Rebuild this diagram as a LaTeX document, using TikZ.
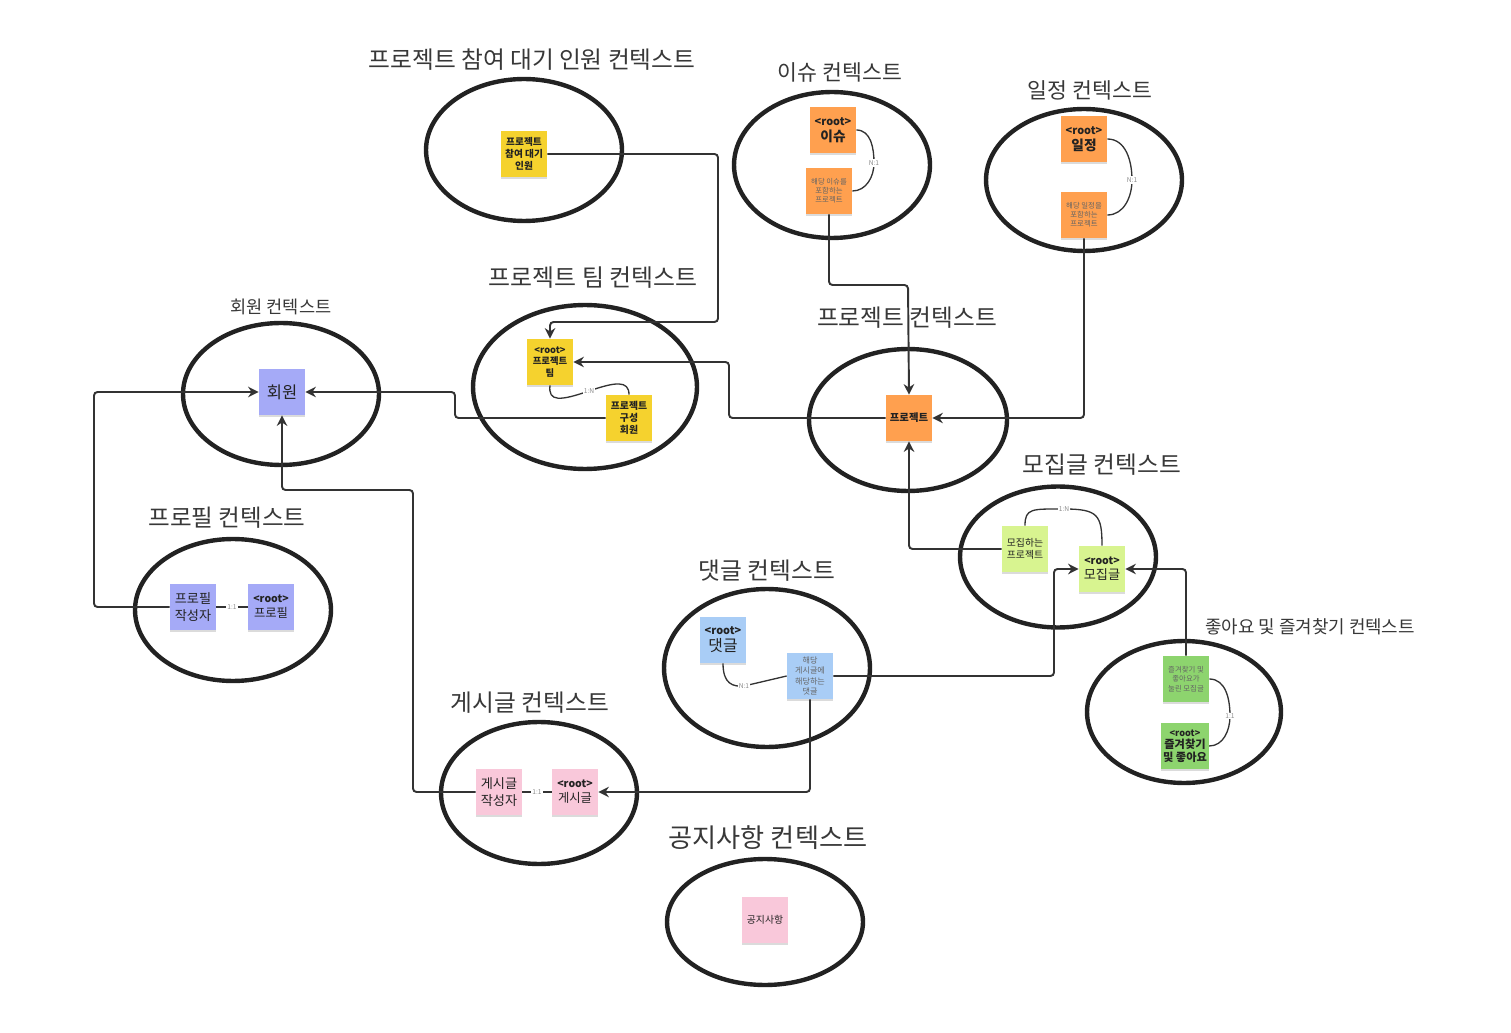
\documentclass[tikz,border=0pt]{standalone}
\usepackage{fontspec}
\setmainfont{Noto Sans CJK KR}
\usetikzlibrary{arrows.meta,shadows,shapes.geometric}
\definecolor{cyellow}{HTML}{F5D22E}
\definecolor{corange}{HTML}{FFA04F}
\definecolor{cpurple}{HTML}{A5AAF7}
\definecolor{clgreen}{HTML}{D8F490}
\definecolor{cgreen}{HTML}{8DD46E}
\definecolor{cblue}{HTML}{A9CDF6}
\definecolor{cpink}{HTML}{F9C8DA}
\definecolor{ink}{HTML}{222222}
\definecolor{lineclr}{HTML}{333333}
\newcommand{\fs}[1]{\fontsize{#1}{\fpeval{#1*1.25}}\selectfont}
\tikzset{
  ctxe/.style={ellipse, draw=ink, line width=2.5pt, inner sep=0pt},
  ttl/.style={text=ink!90, inner sep=0pt},
  note/.style={minimum width=0.92cm, minimum height=0.92cm, inner sep=1pt, align=center,
    text=ink, drop shadow={shadow xshift=0pt, shadow yshift=-1.3pt, opacity=0.14, fill=black}},
  conn/.style={draw=lineclr, line width=1.1pt, rounded corners=2pt, -{Stealth[length=6pt,width=6pt]}},
  rel/.style={draw=lineclr, line width=0.75pt},
  rellab/.style={fill=white, inner sep=0.6pt, text=black!45, font=\fs{3.8}},
}
\begin{document}
\begin{tikzpicture}[x=0.02cm,y=-0.02cm]
\useasboundingbox[fill=white] (0,0) rectangle (1511,1033);

% context ellipses
\node[ctxe, minimum width=3.92cm, minimum height=2.84cm] (eWait) at (524,150) {};
\node[ctxe, minimum width=3.92cm, minimum height=2.92cm] (eIssue) at (832,165) {};
\node[ctxe, minimum width=3.92cm, minimum height=2.84cm] (eSched) at (1084,180) {};
\node[ctxe, minimum width=4.48cm, minimum height=3.28cm] (eTeam) at (585,387) {};
\node[ctxe, minimum width=3.92cm, minimum height=2.84cm] (eMember) at (281,394) {};
\node[ctxe, minimum width=3.96cm, minimum height=2.84cm] (eProj) at (908,420) {};
\node[ctxe, minimum width=3.92cm, minimum height=2.82cm] (eRec) at (1058,557) {};
\node[ctxe, minimum width=3.92cm, minimum height=2.84cm] (eProf) at (233,610) {};
\node[ctxe, minimum width=4.12cm, minimum height=3.16cm] (eCmt) at (767,668) {};
\node[ctxe, minimum width=3.88cm, minimum height=2.84cm] (eLike) at (1184,712) {};
\node[ctxe, minimum width=3.92cm, minimum height=2.84cm] (ePost) at (539,793) {};
\node[ctxe, minimum width=3.92cm, minimum height=2.52cm] (eNotice) at (765,922) {};

% titles
\node[ttl, font=\fs{13.5}] (tWait) at (532,60) {프로젝트 참여 대기 인원 컨텍스트};
\node[ttl, font=\fs{12.3}] (tIssue) at (840,72) {이슈 컨텍스트};
\node[ttl, font=\fs{12.3}] (tSched) at (1090,90) {일정 컨텍스트};
\node[ttl, font=\fs{13.6}] (tTeam) at (593,278) {프로젝트 팀 컨텍스트};
\node[ttl, font=\fs{10}] (tMember) at (281,307) {회원 컨텍스트};
\node[ttl, font=\fs{13.5}] (tProj) at (907,318) {프로젝트 컨텍스트};
\node[ttl, font=\fs{13.5}] (tRec) at (1102,465) {모집글 컨텍스트};
\node[ttl, font=\fs{13.4}] (tProf) at (227,518) {프로필 컨텍스트};
\node[ttl, font=\fs{13.5}] (tCmt) at (767,571) {댓글 컨텍스트};
\node[ttl, font=\fs{10.2}] (tLike) at (1310,627) {좋아요 및 즐겨찾기 컨텍스트};
\node[ttl, font=\fs{13.5}] (tPost) at (530,703) {게시글 컨텍스트};
\node[ttl, font=\fs{14.9}] (tNotice) at (768,838) {공지사항 컨텍스트};

% sticky notes
\node[note, fill=cyellow, font=\fs{5.5}\bfseries] (wait) at (524,154) {프로젝트\\참여 대기\\인원};
\node[note, fill=corange, font=\fs{6.2}\bfseries] (issueR) at (833,130) {<root>\\[1.5pt]{\fs{7.8}이슈}};
\node[note, fill=corange, font=\fs{4.2}, text=ink!70] (issueP) at (829,191) {해당 이슈를\\포함하는\\프로젝트};
\node[note, fill=corange, font=\fs{6.2}\bfseries] (schedR) at (1084,139) {<root>\\[1.5pt]{\fs{7.8}일정}};
\node[note, fill=corange, font=\fs{4.2}, text=ink!70] (schedP) at (1084,215) {해당 일정을\\포함하는\\프로젝트};
\node[note, fill=cyellow, font=\fs{5.3}\bfseries] (teamR) at (550,362) {<root>\\프로젝트\\팀};
\node[note, fill=cyellow, font=\fs{5.6}\bfseries] (teamM) at (629,418) {프로젝트\\구성\\회원};
\node[note, fill=cpurple, font=\fs{9.4}] (member) at (282,392) {회원};
\node[note, fill=corange, font=\fs{5.9}\bfseries] (proj) at (909,418) {프로젝트};
\node[note, fill=clgreen, font=\fs{5.6}] (recP) at (1025,549) {모집하는\\프로젝트};
\node[note, fill=clgreen, font=\fs{6}\bfseries] (recR) at (1102,569) {<root>\\[1pt]{\fs{7.5}\mdseries 모집글}};
\node[note, fill=cpurple, font=\fs{7.5}] (profW) at (193,607) {프로필\\작성자};
\node[note, fill=cpurple, font=\fs{6}\bfseries] (profR) at (271,607) {<root>\\[1pt]{\fs{7}\mdseries 프로필}};
\node[note, fill=cblue, font=\fs{6.2}\bfseries] (cmtR) at (723,640) {<root>\\[2pt]{\fs{9}\mdseries 댓글}};
\node[note, fill=cblue, font=\fs{4.6}, text=ink!70] (cmtP) at (810,676) {해당\\게시글에\\해당하는\\댓글};
\node[note, fill=cgreen, font=\fs{4.2}, text=ink!70] (likeP) at (1186,679) {즐겨찾기 및\\좋아요가\\눌린 모집글};
\node[note, fill=cgreen, font=\fs{5.2}\bfseries] (likeR) at (1185,746) {<root>\\[0.5pt]{\fs{6.4}즐겨찾기}\\[0.5pt]{\fs{6.4}및 좋아요}};
\node[note, fill=cpink, font=\fs{7.5}] (postW) at (499,792) {게시글\\작성자};
\node[note, fill=cpink, font=\fs{6}\bfseries] (postR) at (575,792) {<root>\\[1pt]{\fs{7}\mdseries 게시글}};
\node[note, fill=cpink, font=\fs{5.6}] (notice) at (765,920) {공지사항};

% relationship lines inside contexts
\draw[rel] (issueR.east) to[out=0,in=90] (874,163) to[out=-90,in=0] (issueP.east);
\node[rellab] (lIssue) at (874,163) {N:1};
\draw[rel] (schedR.east) to[out=0,in=90] (1132,180) to[out=-90,in=0] (schedP.east);
\node[rellab] (lSched) at (1132,180) {N:1};
\draw[rel] (teamR.south) .. controls (548,402) and (560,401) .. (589,391) .. controls (615,382) and (629,380) .. (teamM.north);
\node[rellab] (lTeam) at (589,391) {1:N};
\draw[rel] (recP.north) .. controls (1025,508) and (1032,509) .. (1064,509) .. controls (1098,509) and (1102,515) .. (recR.north);
\node[rellab] (lRec) at (1064,509) {1:N};
\draw[rel] (profW.east) -- (profR.west);
\node[rellab] (lProf) at (232,607) {1:1};
\draw[rel] (postW.east) -- (postR.west);
\node[rellab] (lPost) at (537,792) {1:1};
\draw[rel] (cmtR.south) .. controls (723,684) and (733,687) .. (744,686) -- (cmtP.west);
\node[rellab] (lCmt) at (744,686) {N:1};
\draw[rel] (likeP.east) to[out=0,in=90] (1230,716) to[out=-90,in=0] (likeR.east);
\node[rellab] (lLike) at (1230,716) {1:1};

% connectors between contexts
\draw[conn] (wait.east) -| (718,322) -| (teamR.north);
\draw[conn] (issueP.south) |- (908,285) -- (proj.north);
\draw[conn] (schedP.south) |- (proj.east);
\draw[conn] (proj.west) -| (729,362) -- (teamR.east);
\draw[conn] (teamM.west) -| (455,392) -- (member.east);
\draw[conn] (profW.west) -| (94,392) -- (member.west);
\draw[conn] (postW.west) -| (413,490) -| (member.south);
\draw[conn] (cmtP.south) |- (postR.east);
\draw[conn] (cmtP.east) -| (1054,569) -- (recR.west);
\draw[conn] (likeP.north) |- (recR.east);
\draw[conn] (recP.west) -| (proj.south);
\end{tikzpicture}
\end{document}
